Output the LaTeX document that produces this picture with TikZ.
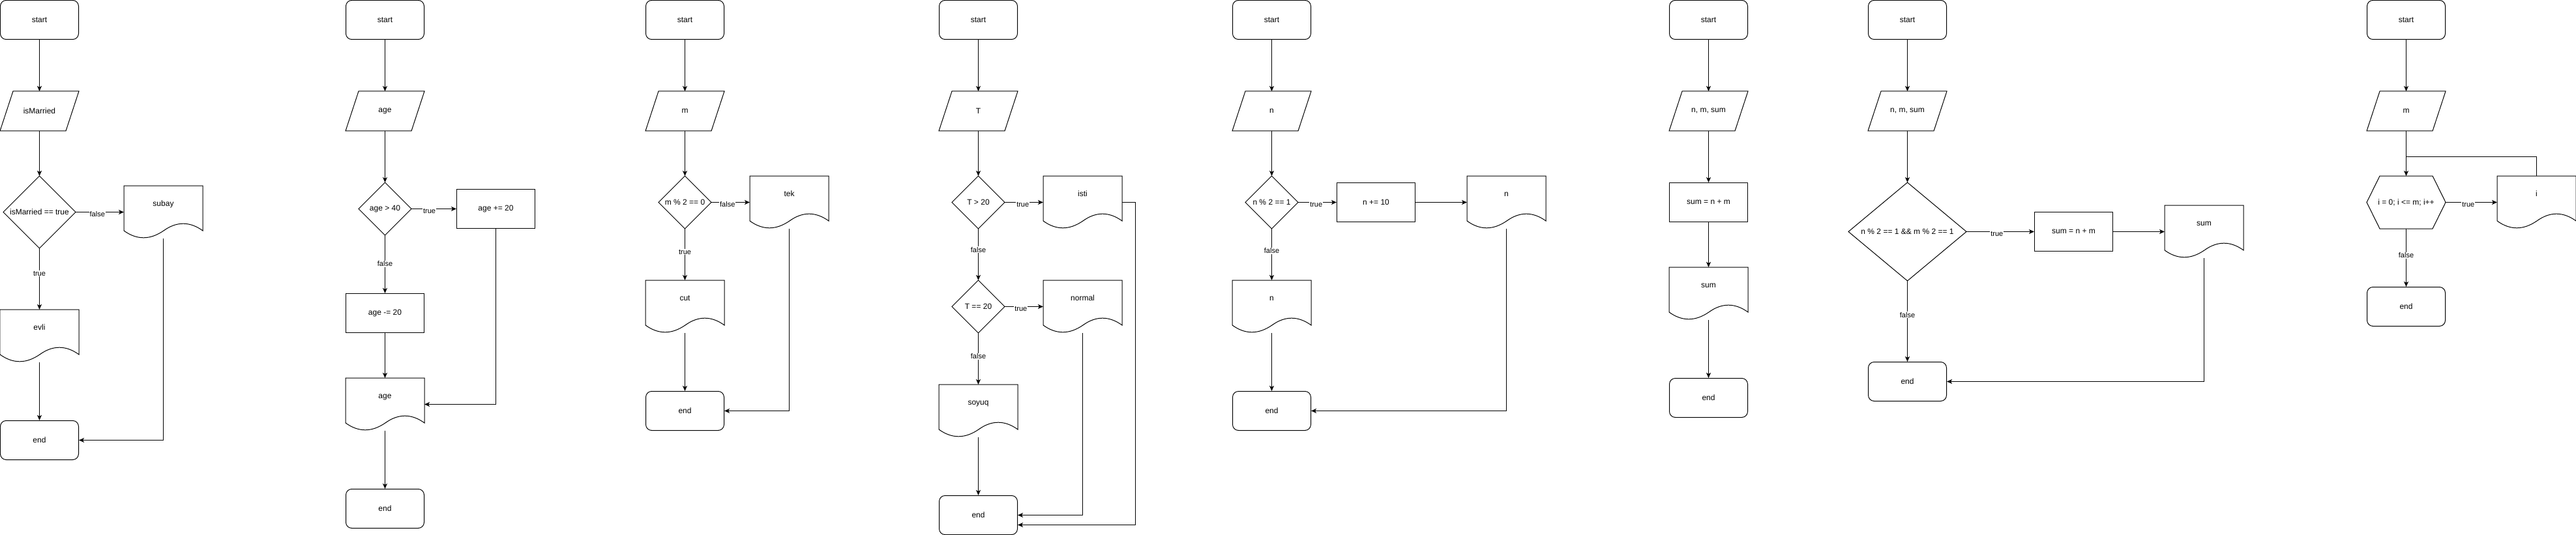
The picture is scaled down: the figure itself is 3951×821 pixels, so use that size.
\documentclass[tikz,border=0pt]{standalone}
\usepackage{fontspec}
\setmainfont{Liberation Sans}
\usetikzlibrary{arrows.meta,calc}

\begin{document}
\begin{tikzpicture}[x=1pt,y=-1pt,line width=1pt,
    >={Stealth[length=8pt,width=7pt,inset=2pt]},
    box/.style={font=\fontsize{12}{14}\selectfont,inner sep=0pt,
      minimum width=120pt,minimum height=60pt},
    term/.style={box,draw,rounded corners=9pt},
    proc/.style={box,draw},
    io/.style={box,append after command={\pgfextra{\let\curnode\tikzlastnode
      \draw ([xshift=20pt]\curnode.north west) -- (\curnode.north east)
        -- ([xshift=-20pt]\curnode.south east) -- (\curnode.south west) -- cycle;}}},
    dec/.style={box,minimum width=80pt,minimum height=80pt,
      append after command={\pgfextra{\let\curnode\tikzlastnode
      \draw (\curnode.north) -- (\curnode.east) -- (\curnode.south)
        -- (\curnode.west) -- cycle;}}},
    loopbox/.style={box,minimum height=80pt,
      append after command={\pgfextra{\let\curnode\tikzlastnode
      \draw (\curnode.west) -- ([xshift=20pt]\curnode.north west)
        -- ([xshift=-20pt]\curnode.north east) -- (\curnode.east)
        -- ([xshift=-20pt]\curnode.south east) -- ([xshift=20pt]\curnode.south west) -- cycle;}}},
    doc/.style={box,minimum height=80pt,text height=9pt,text depth=27pt,
      append after command={\pgfextra{\let\curnode\tikzlastnode
      \draw (\curnode.north west) -- (\curnode.north east)
        -- ([yshift=12pt]\curnode.south east)
        .. controls ([xshift=-20pt,yshift=26.4pt]\curnode.south east)
        and ([xshift=-40pt,yshift=26.4pt]\curnode.south east)
        .. ([xshift=-60pt,yshift=12pt]\curnode.south east)
        .. controls ([xshift=40pt,yshift=-2.4pt]\curnode.south west)
        and ([xshift=20pt,yshift=-2.4pt]\curnode.south west)
        .. ([yshift=12pt]\curnode.south west) -- cycle;}}},
    lbl/.style={font=\fontsize{11}{13}\selectfont,fill=white,inner sep=1pt},
    side/.style={yshift=-3pt}]

  \useasboundingbox (-0.5,-0.5) rectangle (3950.5,820.5);

  % isMarried
  \node[term] (start1) at (60,30) {start};
  \node[io] (in1) at (60,170) {isMarried};
  \node[dec,minimum width=110pt,minimum height=110pt] (if1) at (60,325) {isMarried == true};
  \node[doc] (yes1) at (60,515) {evli};
  \node[doc] (no1) at (250,325) {subay};
  \node[term] (end1) at (60,675) {end};

  % age
  \node[term] (start2) at (590,30) {start};
  \node[io] (in2) at (590,170) {age};
  \node[dec] (if2) at (590,320) {age > 40};
  \node[proc] (add2) at (760,320) {age += 20};
  \node[proc] (sub2) at (590,480) {age -= 20};
  \node[doc] (out2) at (590,620) {age};
  \node[term] (end2) at (590,780) {end};

  % m % 2
  \node[term] (start3) at (1050,30) {start};
  \node[io] (in3) at (1050,170) {m};
  \node[dec] (if3) at (1050,310) {m \% 2 == 0};
  \node[doc] (odd3) at (1210,310) {tek};
  \node[doc] (even3) at (1050,470) {cut};
  \node[term] (end3) at (1050,630) {end};

  % T
  \node[term] (start4) at (1500,30) {start};
  \node[io] (in4) at (1500,170) {T};
  \node[dec] (if4a) at (1500,310) {T > 20};
  \node[dec] (if4b) at (1500,470) {T == 20};
  \node[doc] (hot4) at (1660,310) {isti};
  \node[doc] (mid4) at (1660,470) {normal};
  \node[doc] (cold4) at (1500,630) {soyuq};
  \node[term] (end4) at (1500,790) {end};

  % n % 2
  \node[term] (start5) at (1950,30) {start};
  \node[io] (in5) at (1950,170) {n};
  \node[dec] (if5) at (1950,310) {n \% 2 == 1};
  \node[proc] (add5) at (2110,310) {n += 10};
  \node[doc] (out5a) at (2310,310) {n};
  \node[doc] (out5b) at (1950,470) {n};
  \node[term] (end5) at (1950,630) {end};

  % sum
  \node[term] (start6) at (2620,30) {start};
  \node[io] (in6) at (2620,170) {n, m, sum};
  \node[proc] (sum6) at (2620,310) {sum = n + m};
  \node[doc] (out6) at (2620,450) {sum};
  \node[term] (end6) at (2620,610) {end};

  % odd sum
  \node[term] (start7) at (2925,30) {start};
  \node[io] (in7) at (2925,170) {n, m, sum};
  \node[dec,minimum width=180pt,minimum height=150pt] (if7) at (2925,355) {n \% 2 == 1 \&\& m \% 2 == 1};
  \node[proc] (sum7) at (3180,355) {sum = n + m};
  \node[doc] (out7) at (3380,355) {sum};
  \node[term] (end7) at (2925,585) {end};

  % loop
  \node[term] (start8) at (3690,30) {start};
  \node[io] (in8) at (3690,170) {m};
  \node[loopbox] (for8) at (3690,310) {i = 0; i <= m; i++};
  \node[doc] (out8) at (3890,310) {i};
  \node[term] (end8) at (3690,470) {end};
  \coordinate (join8) at (3690,240);

  \begin{scope}[every node/.style={lbl}]

    \begin{scope}[every edge/.style={draw,->}]
      \path (start1) edge (in1);
      \path (in1) edge (if1);
      \path (if1) edge node[pos=.41] {true} (yes1);
      \path (if1) edge node[pos=.45,side] {false} (no1);
      \path (yes1) edge (end1);

      \path (start2) edge (in2);
      \path (in2) edge (if2);
      \path (if2) edge node[pos=.4,side] {true} (add2);
      \path (if2) edge node[pos=.49] {false} (sub2);
      \path (sub2) edge (out2);
      \path (out2) edge (end2);

      \path (start3) edge (in3);
      \path (in3) edge (if3);
      \path (if3) edge node[pos=.42,side] {false} (odd3);
      \path (if3) edge node[pos=.45] {true} (even3);
      \path (even3) edge (end3);

      \path (start4) edge (in4);
      \path (in4) edge (if4a);
      \path (if4a) edge node[pos=.47,side] {true} (hot4);
      \path (if4a) edge node[pos=.41] {false} (if4b);
      \path (if4b) edge node[pos=.42,side] {true} (mid4);
      \path (if4b) edge node[pos=.45] {false} (cold4);
      \path (cold4) edge (end4);

      \path (start5) edge (in5);
      \path (in5) edge (if5);
      \path (if5) edge node[pos=.47,side] {true} (add5);
      \path (add5) edge (out5a);
      \path (if5) edge node[pos=.43] {false} (out5b);
      \path (out5b) edge (end5);

      \path (start6) edge (in6);
      \path (in6) edge (sum6);
      \path (sum6) edge (out6);
      \path (out6) edge (end6);

      \path (start7) edge (in7);
      \path (in7) edge (if7);
      \path (if7) edge node[pos=.45,side] {true} (sum7);
      \path (sum7) edge (out7);
      \path (if7) edge node[pos=.42] {false} (end7);

      \path (start8) edge (in8);
      \path (in8) edge (for8);
      \path (for8) edge node[pos=.44,side] {true} (out8);
      \path (for8) edge node[pos=.46] {false} (end8);
    \end{scope}

    % way back
    \draw[->] (no1.south) |- (end1.east);
    \draw[->] (add2.south) |- (out2.east);
    \draw[->] (odd3.south) |- (end3.east);
    \draw[->] (mid4.south) |- (end4.east);
    \draw[->] (hot4.east) -- ++(20,0) |- ($(end4.east)+(0,15)$);
    \draw[->] (out5a.south) |- (end5.east);
    \draw[->] (out7.south) |- (end7.east);
    \draw (out8.north) |- (join8);
  \end{scope}

\end{tikzpicture}
\end{document}
